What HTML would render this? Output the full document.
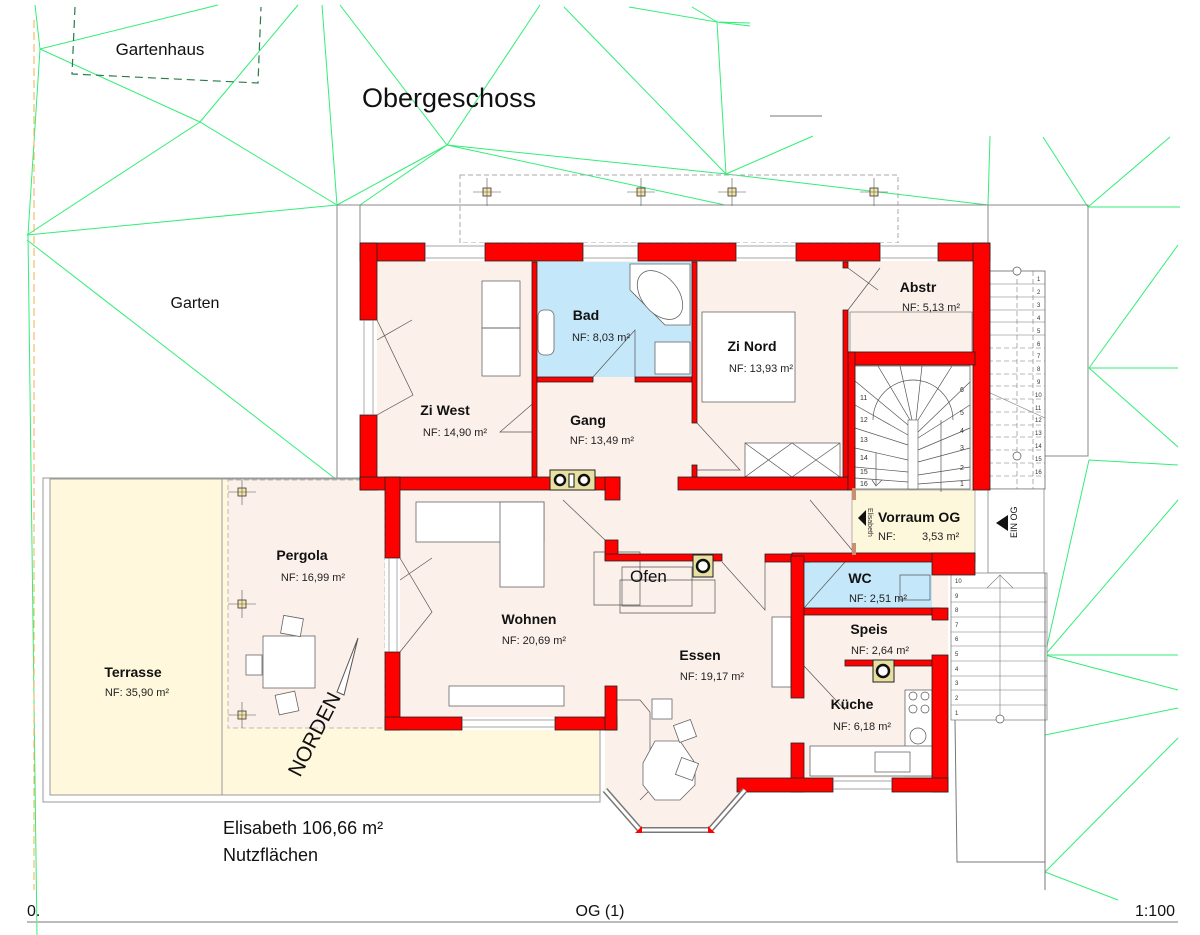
<!DOCTYPE html>
<html><head><meta charset="utf-8"><style>
html,body{margin:0;padding:0;background:#fff;}
svg{display:block;font-family:"Liberation Sans",sans-serif;}
.b{font-weight:bold;font-size:14px;fill:#111;}
.n{font-size:11px;fill:#222;font-family:"Liberation Sans Narrow","Liberation Sans",sans-serif;}
.w{fill:#ff0000;stroke:#222;stroke-width:0.8;}
.t{fill:none;stroke:#555;stroke-width:0.7;}
.f{fill:#fff;stroke:#666;stroke-width:0.8;}
.g{stroke:#33ee77;stroke-width:1;fill:none;}
</style></head><body>
<svg width="1200" height="935" viewBox="0 0 1200 935" xmlns="http://www.w3.org/2000/svg">
<g class="g">
<path d="M35 5L40 49L28 235L37 935"/>
<path d="M40 49L218 5M40 49L200 122L337 205M200 122L298 5M200 122L27 235L337 205M337 205L322 5M337 205L447 145M360 205L447 145M447 145L340 5M447 145L540 5"/>
<path d="M27 240L337 480"/>
<path d="M447 145L726 174L988 205M447 145L725 205M564 7L726 174L813 136M726 174L717 22L629 7M717 22L692 7M717 22L750 23M717 22L750 26M988 205L990 136"/>
<path d="M1088 207L1043 137M1088 207L1170 137M1088 207L1180 207M1089 368L1178 245M1089 368L1178 368M1089 368L1178 447M1089 460L1178 465M1089 460L1045 655L1178 500M1045 655L1178 655M1045 655L1178 690M1045 735L1178 708M1045 872L1178 738M1045 872L1118 900"/>
</g>
<line x1="34" y1="20" x2="34" y2="890" stroke="#f0b050" stroke-width="1" stroke-dasharray="8,4"/>
<path d="M75 7L72 74L258 83L261 7" fill="none" stroke="#2a7a4a" stroke-width="1.2" stroke-dasharray="8,5"/>
<text x="160" y="55" font-size="17" text-anchor="middle" fill="#111">Gartenhaus</text>
<text x="362" y="107" font-size="27" fill="#111">Obergeschoss</text>
<text x="195" y="308" font-size="16" text-anchor="middle" fill="#111">Garten</text>
<line x1="770" y1="116" x2="822" y2="116" stroke="#777"/>
<path d="M337 205L1088 205L1088 456L988 456M988 205L988 490M337 205L337 480M360 205L360 243" fill="none" stroke="#888" stroke-width="1"/>
<rect x="460" y="175" width="438" height="68" fill="none" stroke="#aaa" stroke-dasharray="5,3"/>
<g fill="#f7e6a8" stroke="#333" stroke-width="0.8">
<rect x="483" y="188" width="8" height="8"/><rect x="637" y="188" width="8" height="8"/><rect x="728" y="188" width="8" height="8"/><rect x="870" y="188" width="8" height="8"/>
</g>
<g stroke="#555" stroke-width="0.6">
<path d="M473 192H501M487 178V206M627 192H655M641 178V206M718 192H746M732 178V206M860 192H888M874 178V206"/>
</g>
<rect x="43" y="478" width="557" height="324" fill="none" stroke="#999"/>
<rect x="50" y="479" width="550" height="316" fill="#fff8dc" stroke="#999"/>
<line x1="222" y1="479" x2="222" y2="795" stroke="#999"/>
<rect x="228" y="480" width="157" height="248" fill="#fcf0eb" stroke="#bbb" stroke-dasharray="5,3"/>
<g fill="#f7e6a8" stroke="#333" stroke-width="0.8"><rect x="238" y="488" width="8" height="8"/><rect x="238" y="600" width="8" height="8"/><rect x="238" y="711" width="8" height="8"/></g>
<g stroke="#555" stroke-width="0.6"><path d="M228 492H256M242 480V505M228 604H256M242 590V618M228 715H256M242 702V728"/></g>
<rect x="263" y="636" width="52" height="52" class="f"/>
<rect x="282" y="617" width="20" height="18" class="f" transform="rotate(10 292 626)"/>
<rect x="246" y="655" width="16" height="20" class="f"/>
<rect x="277" y="693" width="20" height="20" class="f" transform="rotate(-12 287 703)"/>
<path d="M358 638L337 692L344 695Z" fill="#fff" stroke="#555"/>
<text x="0" y="0" font-size="21" fill="#111" transform="translate(300 778) rotate(-63)">NORDEN</text>
<path d="M360 243L990 243L990 490L975 490L975 555L948 555L948 792L745 792L710 832L640 832L605 792L605 730L385 730L385 490L360 490Z" fill="#fcf0eb"/>
<rect x="537" y="262" width="155" height="115" fill="#c4e8fa"/>
<rect x="804" y="562" width="128" height="46" fill="#c4e8fa"/>
<rect x="852" y="490" width="123" height="63" fill="#fdf8dc" stroke="#888" stroke-width="0.6"/>
<rect x="850" y="312" width="122" height="40" fill="#fcf0eb" stroke="#777" stroke-width="0.7"/>
<rect x="855" y="366" width="115" height="123" fill="#fff" stroke="#555" stroke-width="0.7"/>
<rect x="908" y="420" width="10" height="69" fill="#fff" stroke="#555" stroke-width="0.6"/>
<g class="t">
<path d="M876 453V485M872 480L876 486L882 480"/>
<path d="M873 420A40 40 0 0 1 953 420"/>
<path d="M855 381L908 425M855 405L908 435M855 428L908 445M855 448L908 460M855 467L908 472M855 478L908 482M878 366L910 420M900 366L912 420M922 366L916 420M952 366L918 420M970 382L918 432M970 405L918 438M970 428L918 450M970 448L918 462M970 467L918 475M970 480L918 484"/>
<path d="M941 420V492"/>
</g>
<g font-size="7" fill="#333"><text x="860" y="400">11</text><text x="860" y="422">12</text><text x="860" y="442">13</text><text x="860" y="460">14</text><text x="860" y="474">15</text><text x="860" y="486">16</text><text x="960" y="392">6</text><text x="960" y="415">5</text><text x="960" y="433">4</text><text x="960" y="450">3</text><text x="960" y="470">2</text><text x="960" y="486">1</text></g>
<rect x="988" y="271" width="57" height="218" fill="#fff" stroke="#666" stroke-width="0.8"/>
<g stroke="#777" stroke-width="0.6">
<path d="M988 284H1045M988 297H1045M988 310H1045M988 322H1045M988 335H1045"/>
<path d="M988 348H1045M988 361H1045M988 374H1045M988 386H1045M988 399H1045M988 412H1045M988 425H1045M988 437H1045M988 450H1045M988 463H1045M988 476H1045" stroke-dasharray="5,3"/>
<path d="M1017 271V489M1033 271V489" stroke-dasharray="5,3"/>
<path d="M988 392L1045 418"/>
</g>
<g font-size="6" fill="#333"><text x="1037" y="281">1</text><text x="1037" y="294">2</text><text x="1037" y="307">3</text><text x="1037" y="320">4</text><text x="1037" y="333">5</text><text x="1037" y="346">6</text><text x="1037" y="358">7</text><text x="1037" y="371">8</text><text x="1037" y="384">9</text><text x="1035" y="397">10</text><text x="1035" y="410">11</text><text x="1035" y="422">12</text><text x="1035" y="435">13</text><text x="1035" y="448">14</text><text x="1035" y="461">15</text><text x="1035" y="474">16</text></g>
<circle cx="1017" cy="271" r="4" fill="#fff" stroke="#555" stroke-width="0.7"/>
<circle cx="1017" cy="456" r="4" fill="#fff" stroke="#555" stroke-width="0.7"/>
<rect x="988" y="489" width="56" height="84" fill="#fff" stroke="#777" stroke-width="0.7"/>
<path d="M996 523L1008 515V531Z" fill="#111"/>
<text font-size="9" fill="#111" transform="translate(1017 538) rotate(-90)">EIN OG</text>
<rect x="951" y="573" width="96" height="147" fill="#fff" stroke="#777" stroke-width="0.7"/>
<g stroke="#777" stroke-width="0.6" fill="none"><path d="M951 588H1047M951 602H1047M951 617H1047M951 632H1047M951 646H1047M951 661H1047M951 676H1047M951 690H1047M951 705H1047M1000 575V720M987 588L1000 575L1013 588"/></g>
<circle cx="1000" cy="719" r="4" fill="#fff" stroke="#555" stroke-width="0.7"/>
<g font-size="6" fill="#333"><text x="955" y="583">10</text><text x="955" y="598">9</text><text x="955" y="612">8</text><text x="955" y="627">7</text><text x="955" y="641">6</text><text x="955" y="656">5</text><text x="955" y="671">4</text><text x="955" y="685">3</text><text x="955" y="700">2</text><text x="955" y="715">1</text></g>
<path d="M955 720L957 862L1045 862M1045 573V890" fill="none" stroke="#777"/>
<rect x="482" y="281" width="38" height="95" class="f"/><line x1="482" y1="328" x2="520" y2="328" stroke="#666"/>
<rect x="538" y="310" width="16" height="45" class="f" rx="6"/>
<path d="M630 264H690V325H665L630 290Z" class="f"/><ellipse cx="660" cy="295" rx="18" ry="28" transform="rotate(-40 660 295)" class="f"/>
<rect x="655" y="342" width="35" height="32" class="f"/>
<rect x="702" y="312" width="93" height="90" class="f"/>
<rect x="745" y="443" width="95" height="34" class="f"/><path d="M745 443L792 477M792 443L745 477M792 443L840 477M840 443L792 477" class="t"/>
<rect x="416" y="502" width="128" height="40" class="f"/><rect x="500" y="502" width="44" height="85" class="f"/>
<rect x="449" y="686" width="115" height="20" class="f"/>
<path d="M594 552H640V605H594Z M622 567H692V606H622Z M620 580H715V613H620Z" class="t"/>
<rect x="772" y="617" width="19" height="70" class="f"/>
<path d="M617 700H640L650 712V790L640 800" class="t"/>
<path d="M643 763L655 741H680L695 763V785L680 800H655L643 785Z" class="f"/>
<rect x="652" y="699" width="20" height="20" class="f"/><rect x="676" y="722" width="18" height="18" class="f" transform="rotate(-20 685 731)"/><rect x="678" y="760" width="18" height="18" class="f" transform="rotate(20 687 769)"/>
<rect x="905" y="690" width="27" height="86" class="f"/><rect x="810" y="746" width="122" height="30" class="f"/>
<path d="M900 575H930V600H900Z" class="t"/>
<g class="t"><circle cx="913" cy="696" r="4"/><circle cx="925" cy="696" r="4"/><circle cx="913" cy="709" r="4"/><circle cx="925" cy="709" r="4"/><circle cx="918" cy="736" r="8"/><rect x="875" y="752" width="35" height="20"/></g>
<!-- window openings white -->
<g fill="#fff">
<rect x="425" y="243" width="60" height="18"/><rect x="583" y="243" width="55" height="18"/><rect x="736" y="243" width="60" height="18"/><rect x="880" y="243" width="58" height="18"/>
<rect x="360" y="320" width="17" height="95"/><rect x="385" y="558" width="15" height="94"/>
<rect x="462" y="717" width="93" height="13"/><rect x="833" y="778" width="59" height="14"/>
</g>
<g class="t">
<path d="M377 320L413 395L377 415M377 340L412 320"/>
<path d="M400 558L432 612L400 652M400 580L432 558"/>
<path d="M537 400L500 432H537M593 377L635 330V377"/>
<path d="M697 423L740 470H697M848 268L878 290M848 310L880 268"/>
<path d="M563 500L605 540M810 500L852 550M722 562L765 610V562"/>
<path d="M804 608L845 562M804 666L845 710"/>
</g>
<g class="w">
<rect x="360" y="243" width="65" height="18"/><rect x="485" y="243" width="98" height="18"/><rect x="638" y="243" width="98" height="18"/><rect x="796" y="243" width="84" height="18"/><rect x="938" y="243" width="52" height="18"/>
<rect x="360" y="243" width="17" height="77"/><rect x="360" y="415" width="17" height="75"/>
<rect x="360" y="477" width="260" height="13"/><rect x="605" y="477" width="15" height="23"/>
<rect x="385" y="477" width="15" height="81"/><rect x="385" y="652" width="15" height="78"/>
<rect x="385" y="717" width="77" height="13"/><rect x="555" y="717" width="62" height="13"/><rect x="605" y="686" width="12" height="44"/>
<rect x="605" y="540" width="13" height="20"/><rect x="605" y="554" width="117" height="7"/>
<rect x="765" y="554" width="45" height="8"/><rect x="792" y="553" width="183" height="9"/><rect x="932" y="553" width="43" height="22"/>
<rect x="678" y="477" width="170" height="13"/>
<rect x="973" y="243" width="17" height="247"/>
<rect x="848" y="352" width="127" height="13"/><rect x="848" y="352" width="7" height="138"/>
<rect x="532" y="262" width="5" height="215"/>
<rect x="537" y="377" width="56" height="5"/><rect x="635" y="377" width="57" height="5"/>
<rect x="692" y="262" width="5" height="161"/><rect x="692" y="465" width="5" height="12"/>
<rect x="843" y="262" width="5" height="6"/><rect x="843" y="310" width="5" height="167"/>
<rect x="791" y="556" width="13" height="142"/><rect x="791" y="743" width="13" height="49"/>
<rect x="804" y="608" width="136" height="7"/><rect x="845" y="660" width="87" height="6"/>
<rect x="932" y="655" width="16" height="137"/><rect x="932" y="608" width="16" height="12"/>
<rect x="737" y="778" width="96" height="14"/><rect x="892" y="778" width="56" height="14"/>
</g>
<g stroke="#888" stroke-width="0.7"><path d="M425 246H485M425 258H485M583 246H638M583 258H638M736 246H796M736 258H796M880 246H938M880 258H938M364 320V415M373 320V415M389 558V652M397 558V652M462 720H555M462 727H555M833 781H892M833 789H892"/></g>
<rect x="852" y="488" width="4" height="12" fill="#c89070"/><rect x="852" y="543" width="4" height="12" fill="#c89070"/>
<g fill="#e8e0a0" stroke="#222" stroke-width="1"><rect x="550" y="470" width="45" height="20"/><rect x="693" y="555" width="20" height="22"/><rect x="873" y="660" width="21" height="22"/></g>
<g fill="#fff" stroke="#111" stroke-width="2.5"><circle cx="560" cy="480" r="5"/><circle cx="584" cy="480" r="5"/><circle cx="703" cy="566" r="6"/><circle cx="883" cy="671" r="6"/></g>
<rect x="569" y="474" width="5" height="13" fill="#fff" stroke="#111"/>
<path d="M605 790L640 830H710L745 790" fill="none" stroke="#777" stroke-width="6"/>
<path d="M605 790L640 830H710L745 790" fill="none" stroke="#fff" stroke-width="3"/>
<path d="M635 833L642 826L642 833Z M708 826L715 833L708 833Z" fill="#f00"/>
<g text-anchor="middle">
<text class="b" x="445" y="415">Zi West</text><text class="n" x="455" y="436">NF: 14,90 m²</text>
<text class="b" x="586" y="320">Bad</text><text class="n" x="601" y="341">NF: 8,03 m²</text>
<text class="b" x="752" y="351">Zi Nord</text><text class="n" x="761" y="372">NF: 13,93 m²</text>
<text class="b" x="918" y="292">Abstr</text><text class="n" x="931" y="311">NF: 5,13 m²</text>
<text class="b" x="588" y="425">Gang</text><text class="n" x="602" y="444">NF: 13,49 m²</text>
<text class="b" x="860" y="583">WC</text><text class="n" x="878" y="602">NF: 2,51 m²</text>
<text class="b" x="869" y="634">Speis</text><text class="n" x="880" y="654">NF: 2,64 m²</text>
<text class="b" x="852" y="709">Küche</text><text class="n" x="862" y="730">NF: 6,18 m²</text>
<text class="b" x="529" y="624">Wohnen</text><text class="n" x="534" y="644">NF: 20,69 m²</text>
<text class="b" x="700" y="660">Essen</text><text class="n" x="712" y="680">NF: 19,17 m²</text>
<text class="b" x="302" y="560">Pergola</text><text class="n" x="313" y="581">NF: 16,99 m²</text>
<text class="b" x="133" y="677">Terrasse</text><text class="n" x="137" y="696">NF: 35,90 m²</text>
</g>
<text class="b" x="878" y="522">Vorraum OG</text>
<text class="n" x="878" y="540">NF:</text><text class="n" x="922" y="540">3,53 m²</text>
<path d="M858 518L866 510V526Z" fill="#111"/>
<text font-size="7" fill="#333" transform="translate(868 508) rotate(90)">Elisabeth</text>
<text x="630" y="582" font-size="17" fill="#111">Ofen</text>
<text x="223" y="834" font-size="18" fill="#111">Elisabeth 106,66 m²</text>
<text x="223" y="861" font-size="18" fill="#111">Nutzflächen</text>
<text x="27" y="916" font-size="16" fill="#111">0.</text>
<text x="600" y="916" font-size="16" fill="#111" text-anchor="middle">OG (1)</text>
<text x="1175" y="916" font-size="16" fill="#111" text-anchor="end">1:100</text>
<line x1="27" y1="922" x2="1178" y2="922" stroke="#bbb" stroke-width="2"/>
</svg>
</body></html>
